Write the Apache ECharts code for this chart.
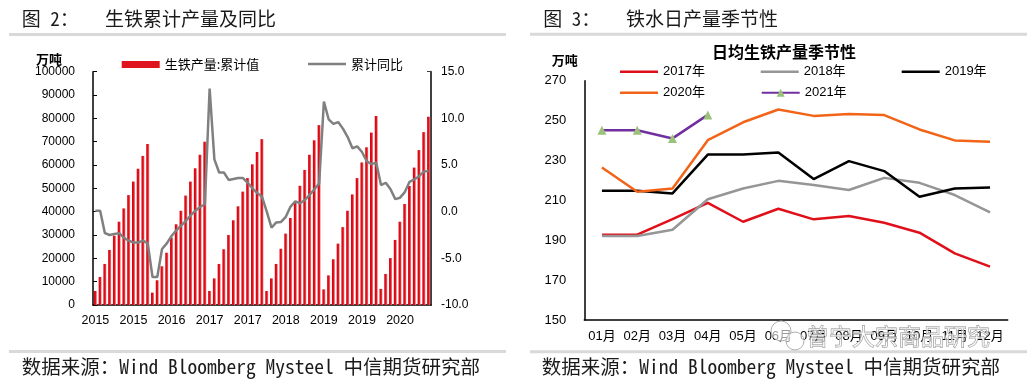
<!DOCTYPE html>
<html><head><meta charset="utf-8">
<script src="https://cdn.jsdelivr.net/npm/echarts@6/dist/echarts.min.js"></script>
<style>html,body{margin:0;padding:0;background:#fff}#c{width:1036px;height:384px}</style>
</head><body><div id="c"></div>
<script>
// ---------- Left chart data ----------
const months = [
 '2015-01','2015-02','2015-03','2015-04','2015-05','2015-06','2015-07','2015-08','2015-09','2015-10','2015-11','2015-12',
 '2016-01','2016-02','2016-03','2016-04','2016-05','2016-06','2016-07','2016-08','2016-09','2016-10','2016-11','2016-12',
 '2017-01','2017-02','2017-03','2017-04','2017-05','2017-06','2017-07','2017-08','2017-09','2017-10','2017-11','2017-12',
 '2018-01','2018-02','2018-03','2018-04','2018-05','2018-06','2018-07','2018-08','2018-09','2018-10','2018-11','2018-12',
 '2019-01','2019-02','2019-03','2019-04','2019-05','2019-06','2019-07','2019-08','2019-09','2019-10','2019-11','2019-12',
 '2020-01','2020-02','2020-03','2020-04','2020-05','2020-06','2020-07','2020-08','2020-09','2020-10','2020-11'
];
const cumOutput = [
 6000,12000,17600,23600,29700,35700,41400,47100,52900,58400,63900,69000,
 5300,10600,16600,22400,28900,34600,40400,46900,52900,58600,64400,70000,
 6000,11400,17600,23900,30000,36300,42300,48600,54400,60300,65600,71100,
 6000,11400,17600,24100,30600,37300,44000,51100,57900,64400,70600,77100,
 6700,12700,19600,26300,33400,40400,47400,54400,61100,67600,73900,81000,
 6900,13300,20100,27900,35700,43300,51000,58900,66400,74100,80700
];
const cumYoY = [
 0.1,0.1,-2.3,-2.5,-2.4,-2.3,-2.8,-3.1,-3.3,-3.3,-3.1,-3.4,
 -7.0,-7.0,-4.0,-3.4,-2.6,-2.0,-1.5,-1.0,-0.4,0.1,0.5,0.8,
 13.2,5.6,4.2,4.2,3.4,3.5,3.6,3.6,3.1,2.5,2.0,1.6,
 0.0,-1.7,-1.15,-1.1,-0.55,0.55,1.1,0.9,1.25,1.8,2.4,3.0,
 11.8,9.9,9.4,9.6,8.9,8.0,6.8,7.0,6.4,5.4,5.1,5.25,
 2.85,3.1,2.4,1.35,1.5,2.1,3.2,3.45,3.8,4.3,4.35
];
// ---------- Right chart data ----------
const seasonMonths = ['01月','02月','03月','04月','05月','06月','07月','08月','09月','10月','11月','12月'];
const y2017 = [192.8,192.8,200.6,208.8,199.3,205.8,200.5,202.2,198.8,193.8,183.4,176.8];
const y2018 = [192.1,192.1,195.3,210.6,216.0,219.8,217.7,215.2,221.3,218.8,212.7,204.0];
const y2019 = [214.8,214.8,213.5,233.0,233.0,234.0,220.7,229.7,224.7,211.8,216.0,216.5];
const y2020 = [226.5,214.3,216.0,240.2,249.2,255.6,252.4,253.4,252.8,245.6,240.1,239.4];
const y2021 = [245.2,245.2,241.1,252.9];

const NUM = "'Liberation Sans', 'Noto Sans CJK SC', sans-serif";
const CJK = "'Noto Sans CJK SC', sans-serif";
const MONO = "'Noto Sans Mono CJK SC', 'Noto Sans CJK SC', monospace";

const chart = echarts.init(document.getElementById('c'), null, {renderer:'canvas'});

function lineLegend(left, top, name, font) {
  return {
    left: left, top: top, padding: 0, itemGap: 0,
    itemWidth: 38, itemHeight: 2.5,
    data: [{name: name, icon: 'rect'}],
    textStyle: {fontSize: 13, color: '#000', fontFamily: font || NUM, lineHeight: 14}
  };
}

const option = {
  animation: false,
  backgroundColor: '#fff',
  grid: [
    {left: 93, top: 71.7, width: 338, height: 233.3},
    {left: 584.3, top: 80.8, width: 423.4, height: 239.2}
  ],
  xAxis: [
    {type: 'category', gridIndex: 0, data: months, boundaryGap: true,
     axisLine: {lineStyle: {color: '#000', width: 1.5}},
     axisTick: {inside: true, interval: 7, length: 4, lineStyle: {color: '#000'}},
     axisLabel: {interval: 7, formatter: v => v.slice(0, 4), fontSize: 12.5, color: '#000', margin: 9, fontFamily: NUM}},
    {type: 'category', gridIndex: 1, data: seasonMonths, boundaryGap: true,
     axisLine: {lineStyle: {color: '#000', width: 1.5}},
     axisTick: {inside: true, interval: 0, length: 5, lineStyle: {color: '#000'}},
     axisLabel: {interval: 0, fontSize: 13, color: '#000', margin: 10, fontFamily: NUM}}
  ],
  yAxis: [
    {type: 'value', gridIndex: 0, min: 0, max: 100000, interval: 10000,
     axisLine: {show: true, lineStyle: {color: '#000', width: 1.5}},
     axisTick: {show: true, inside: true, length: 4, lineStyle: {color: '#000'}},
     splitLine: {show: false},
     axisLabel: {fontSize: 12, color: '#000', margin: 18, fontFamily: NUM, formatter: v => String(v)}},
    {type: 'value', gridIndex: 0, position: 'right', min: -10, max: 15, interval: 5,
     axisLine: {show: true, lineStyle: {color: '#404040', width: 2}},
     axisTick: {show: true, inside: true, length: 4, lineStyle: {color: '#404040'}},
     splitLine: {show: false},
     axisLabel: {fontSize: 12, color: '#000', margin: 10, fontFamily: NUM, formatter: v => v.toFixed(1)}},
    {type: 'value', gridIndex: 1, min: 150, max: 270, interval: 20,
     axisLine: {show: true, lineStyle: {color: '#000', width: 1.5}},
     axisTick: {show: false},
     splitLine: {show: false},
     axisLabel: {fontSize: 13, color: '#000', margin: 18, fontFamily: NUM}}
  ],
  legend: [
    {left: 121.7, top: 57.5, padding: 0, itemGap: 0, itemWidth: 38, itemHeight: 7,
     data: [{name: '生铁产量:累计值', icon: 'rect', itemStyle: {color: '#E0141E'}}],
     textStyle: {fontSize: 13, color: '#000', fontFamily: CJK, lineHeight: 14}},
    lineLegend(308, 57, '累计同比', CJK),
    lineLegend(620, 64.7, '2017年'),
    lineLegend(760.7, 64.7, '2018年'),
    lineLegend(901.7, 64.7, '2019年'),
    lineLegend(620, 85.7, '2020年'),
    {left: 760.7, top: 85.7, padding: 0, itemGap: 0, itemWidth: 38, itemHeight: 10,
     data: ['2021年'],
     textStyle: {fontSize: 13, color: '#000', fontFamily: NUM, lineHeight: 14}}
  ],
  series: [
    {name: '生铁产量:累计值', type: 'bar', xAxisIndex: 0, yAxisIndex: 0, data: cumOutput, barWidth: 3,
     itemStyle: {color: new echarts.graphic.LinearGradient(0, 0, 1, 0, [
       {offset: 0, color: '#D4000F'}, {offset: 0.6, color: '#E3141E'}, {offset: 1, color: '#F49A9A'}])}},
    {name: '累计同比', type: 'line', xAxisIndex: 0, yAxisIndex: 1, data: cumYoY, symbol: 'none',
     color: '#808080', lineStyle: {color: '#808080', width: 2.5}},
    {name: '2017年', type: 'line', xAxisIndex: 1, yAxisIndex: 2, data: y2017, symbol: 'none',
     color: '#E0101A', lineStyle: {color: '#E0101A', width: 2.5}},
    {name: '2018年', type: 'line', xAxisIndex: 1, yAxisIndex: 2, data: y2018, symbol: 'none',
     color: '#969696', lineStyle: {color: '#969696', width: 2.5}},
    {name: '2019年', type: 'line', xAxisIndex: 1, yAxisIndex: 2, data: y2019, symbol: 'none',
     color: '#000000', lineStyle: {color: '#000000', width: 2.5}},
    {name: '2020年', type: 'line', xAxisIndex: 1, yAxisIndex: 2, data: y2020, symbol: 'none',
     color: '#F26418', lineStyle: {color: '#F26418', width: 2.5}},
    {name: '2021年', type: 'line', xAxisIndex: 1, yAxisIndex: 2, data: y2021, symbol: 'triangle', symbolSize: 9,
     color: '#7030A0', itemStyle: {color: '#9BC27A'}, lineStyle: {color: '#7030A0', width: 2.5}}
  ],
  graphic: [
    // headers
    {type: 'text', x: 21.7, y: 18.5, style: {text: '图 2：', font: '19px ' + MONO, fill: '#1a1a1a', verticalAlign: 'middle'}},
    {type: 'text', x: 105, y: 18.5, style: {text: '生铁累计产量及同比', font: '19px ' + MONO, fill: '#1a1a1a', verticalAlign: 'middle'}},
    {type: 'text', x: 543.3, y: 18.5, style: {text: '图 3：', font: '19px ' + MONO, fill: '#1a1a1a', verticalAlign: 'middle'}},
    {type: 'text', x: 626, y: 18.5, style: {text: '铁水日产量季节性', font: '19px ' + MONO, fill: '#1a1a1a', verticalAlign: 'middle'}},
    // separators
    {type: 'line', shape: {x1: 9, y1: 34.5, x2: 506, y2: 34.5}, style: {stroke: '#D9D9D9', lineWidth: 3}},
    {type: 'line', shape: {x1: 530, y1: 34.3, x2: 1027, y2: 34.3}, style: {stroke: '#D9D9D9', lineWidth: 3}},
    {type: 'line', shape: {x1: 9, y1: 351.5, x2: 506, y2: 351.5}, style: {stroke: '#D9D9D9', lineWidth: 3}},
    {type: 'line', shape: {x1: 530, y1: 351.7, x2: 1027, y2: 351.7}, style: {stroke: '#D9D9D9', lineWidth: 3}},
    // footers
    {type: 'text', x: 21.7, y: 366.5, style: {text: '数据来源：Wind Bloomberg Mysteel 中信期货研究部', font: '19.5px ' + MONO, fill: '#1a1a1a', verticalAlign: 'middle'}},
    {type: 'text', x: 541.7, y: 366.5, style: {text: '数据来源：Wind Bloomberg Mysteel 中信期货研究部', font: '19.5px ' + MONO, fill: '#1a1a1a', verticalAlign: 'middle'}},
    // unit labels
    {type: 'text', x: 36, y: 59, style: {text: '万吨', font: 'bold 13px ' + CJK, fill: '#000', verticalAlign: 'middle'}},
    {type: 'text', x: 551.7, y: 60, style: {text: '万吨', font: 'bold 13px ' + CJK, fill: '#000', verticalAlign: 'middle'}},
    // right chart title
    {type: 'text', x: 784, y: 51.7, style: {text: '日均生铁产量季节性', font: 'bold 16px ' + CJK, fill: '#000', align: 'center', verticalAlign: 'middle'}},
    // watermark
    {type: 'circle', shape: {cx: 781, cy: 331, r: 10}, style: {fill: 'rgba(255,255,255,0.6)', stroke: '#b0b0b0', lineWidth: 1}, z: 100},
    {type: 'circle', shape: {cx: 795, cy: 341, r: 9}, style: {fill: 'rgba(255,255,255,0.6)', stroke: '#b0b0b0', lineWidth: 1}, z: 100},
    {type: 'text', x: 806, y: 336, z: 100, style: {text: '曾宁大宗商品研究', font: '23px ' + CJK, fill: 'rgba(255,255,255,0.6)', stroke: '#8a8a8a', lineWidth: 0.8, verticalAlign: 'middle'}}
  ]
};
chart.setOption(option);
</script>
</body></html>
